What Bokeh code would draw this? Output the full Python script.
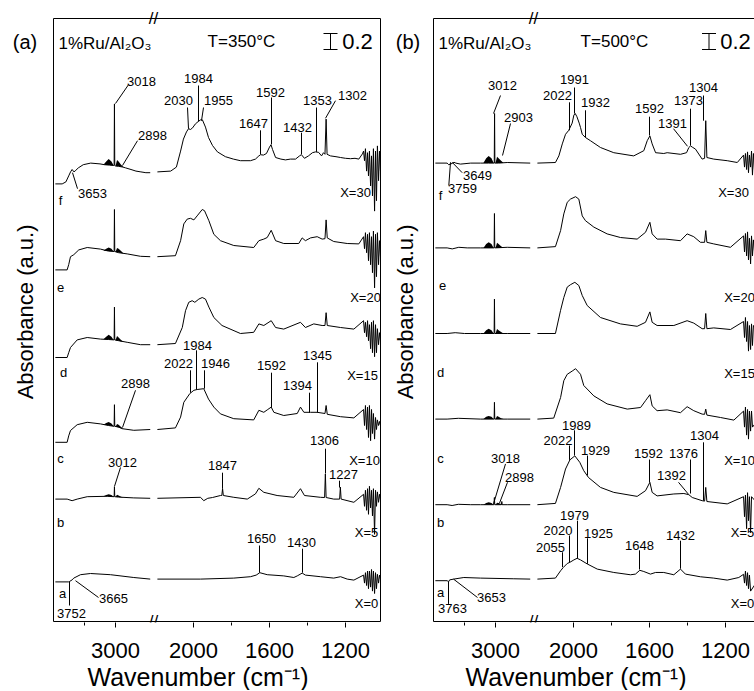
import math
import numpy as np
from bokeh.plotting import figure
from bokeh.models import (Range1d, LinearAxis, FixedTicker, CustomJSTickFormatter,
                          CustomJSTransform, ColumnDataSource, Title)
from bokeh.transform import transform
from bokeh.layouts import row
from bokeh.core.properties import value
from bokeh.embed import file_html
from bokeh.resources import INLINE

nan = float("nan")
FONT = "Liberation Sans"

# ---------------- axis ticks (wavenumber, cm-1) ----------------
TICK_WN = [3000, 2000, 1600, 1200]
MINOR_WN = [3500, 1800, 1400, 1000]
SCALE_BAR = 0.2
Y_TOP = 7.5375   # top of the drawn panel box (absorbance units)

# ---------------- panel (a) spectra: (wavenumber, absorbance rel. to offset) ----------------
A_OFFSETS = {"f": 5.62, "e": 4.56, "d": 3.46, "c": 2.40, "b": 1.54, "a": 0.53}

A_f = [(3970, -0.15), (3860, -0.15), (3800, -0.125), (3755, -0.05), (3725, 0.0), (3700, 0.03),
       (3670, 0.0), (3640, 0.02), (3600, 0.05), (3520, 0.09), (3400, 0.11), (3250, 0.10),
       (3180, 0.09), (3100, 0.085), (3030, 0.08), (3022, 0.08), (3017, 0.85), (3012, 0.08),
       (3005, 0.075), (2950, 0.07), (2880, 0.06), (2836, 0.05), (2750, 0.03), (2670, 0.01),
       (2590, 0.0), (2510, -0.01), (2440, -0.01), (2300, nan),
       (2190, 0.0), (2120, 0.01), (2090, 0.06), (2068, 0.26), (2053, 0.41), (2037, 0.5),
       (2026, 0.54), (2016, 0.53), (2005, 0.55), (1990, 0.6), (1975, 0.63), (1963, 0.65),
       (1953, 0.65), (1937, 0.56), (1921, 0.43), (1900, 0.33), (1874, 0.25), (1832, 0.19),
       (1790, 0.16), (1753, 0.14), (1700, 0.14), (1674, 0.16), (1656, 0.2), (1647, 0.215),
       (1632, 0.21), (1616, 0.23), (1600, 0.31), (1592, 0.34), (1584, 0.28), (1568, 0.18),
       (1540, 0.16), (1516, 0.15), (1490, 0.16), (1463, 0.16), (1442, 0.2), (1432, 0.215),
       (1416, 0.17), (1395, 0.2), (1374, 0.24), (1358, 0.25), (1342, 0.245), (1326, 0.2),
       (1316, 0.24), (1308, 0.22), (1302, 0.66), (1297, 0.22), (1279, 0.2), (1250, 0.19),
       (1226, 0.18), (1200, 0.17), (1174, 0.165), (1150, 0.17), (1130, 0.16), (1111, 0.225),
       (1105, 0.26), (1100, 0.14), (1095, 0.29), (1089, 0.01), (1084, 0.24), (1079, -0.05),
       (1074, 0.26), (1068, -0.175), (1063, 0.2), (1058, -0.3), (1053, 0.29), (1047, -0.49),
       (1042, 0.26), (1037, -0.36), (1032, 0.325), (1026, -0.11), (1021, 0.26), (1016, 0.01)]

A_e = [(3970, -0.165), (3780, -0.165), (3755, -0.1), (3726, 0.0), (3673, 0.025), (3592, 0.085),
       (3456, 0.115), (3242, 0.095), (3113, 0.07), (3022, 0.065), (3017, 0.59), (3012, 0.065),
       (2950, 0.05), (2811, 0.035), (2597, 0.005), (2440, 0.0), (2300, nan),
       (2190, 0.0), (2095, 0.0125), (2068, 0.2), (2051, 0.41), (2033, 0.47), (2016, 0.48),
       (1998, 0.46), (1981, 0.51), (1954, 0.59), (1942, 0.575), (1919, 0.45), (1893, 0.28),
       (1858, 0.2), (1788, 0.14), (1683, 0.115), (1656, 0.2), (1630, 0.22), (1612, 0.24),
       (1591, 0.33), (1568, 0.2), (1525, 0.165), (1446, 0.165), (1428, 0.235), (1411, 0.2),
       (1384, 0.235), (1349, 0.25), (1323, 0.22), (1308, 0.225), (1302, 0.46), (1296, 0.235),
       (1262, 0.19), (1191, 0.165), (1130, 0.16),
       (1105, 0.25), (1100, 0.1), (1095, 0.3), (1089, 0.05), (1084, 0.28), (1079, -0.05),
       (1074, 0.3), (1068, -0.1), (1063, 0.25), (1058, -0.2), (1053, 0.32), (1047, -0.39),
       (1042, 0.28), (1037, -0.25), (1032, 0.3), (1026, -0.1), (1021, 0.2), (1016, 0.0)]

A_d = [(3970, -0.16), (3780, -0.16), (3755, -0.1), (3726, -0.035), (3618, 0.06), (3456, 0.09),
       (3242, 0.07), (3113, 0.065), (3022, 0.06), (3017, 0.47), (3012, 0.06), (2950, 0.05),
       (2811, 0.03), (2597, 0.0), (2440, 0.0), (2300, nan),
       (2190, 0.0), (2095, 0.015), (2059, 0.215), (2042, 0.425), (2025, 0.53), (2007, 0.55),
       (1993, 0.53), (1972, 0.57), (1954, 0.59), (1937, 0.57), (1919, 0.47), (1893, 0.34),
       (1850, 0.24), (1753, 0.14), (1683, 0.155), (1656, 0.26), (1630, 0.24), (1591, 0.3),
       (1568, 0.215), (1525, 0.195), (1437, 0.28), (1411, 0.215), (1367, 0.26), (1323, 0.24),
       (1308, 0.24), (1302, 0.4), (1296, 0.24), (1226, 0.215), (1156, 0.195),
       (1105, 0.3), (1100, 0.15), (1095, 0.28), (1089, 0.1), (1084, 0.3), (1079, 0.05),
       (1074, 0.25), (1068, -0.05), (1063, 0.28), (1058, -0.1), (1053, 0.3), (1047, -0.15),
       (1042, 0.25), (1037, -0.1), (1032, 0.2), (1026, 0.0), (1021, 0.15), (1016, 0.05)]

A_c = [(3970, -0.16), (3780, -0.16), (3755, -0.08), (3726, -0.0125), (3618, 0.06), (3456, 0.09),
       (3242, 0.07), (3113, 0.05), (3022, 0.04), (3017, 0.31), (3012, 0.04), (2950, 0.03),
       (2892, 0.01), (2705, -0.01), (2440, 0.0), (2300, nan),
       (2190, 0.0), (2095, 0.02), (2068, 0.155), (2051, 0.34), (2019, 0.45), (1998, 0.49),
       (1981, 0.5), (1946, 0.51), (1921, 0.38), (1893, 0.28), (1858, 0.195), (1788, 0.135),
       (1683, 0.12), (1656, 0.24), (1630, 0.215), (1612, 0.245), (1591, 0.28), (1577, 0.215),
       (1525, 0.175), (1454, 0.2), (1437, 0.28), (1419, 0.215), (1384, 0.215), (1349, 0.215),
       (1308, 0.2), (1302, 0.3), (1296, 0.19), (1226, 0.16), (1156, 0.145),
       (1105, 0.25), (1100, 0.05), (1095, 0.3), (1089, 0.0), (1084, 0.28), (1079, -0.1),
       (1074, 0.3), (1068, -0.14), (1063, 0.25), (1058, -0.05), (1053, 0.2), (1047, -0.12),
       (1042, 0.15), (1037, 0.0), (1032, 0.12), (1026, 0.05), (1021, 0.1), (1016, 0.05)]

A_b = [(3970, -0.01), (3780, -0.01), (3700, -0.03), (3618, -0.01), (3456, 0.02), (3134, 0.025),
       (3022, 0.02), (3017, 0.145), (3012, 0.02), (2950, 0.015), (2705, 0.005), (2440, 0.0),
       (2300, nan),
       (2190, 0.0), (1963, 0.0125), (1946, -0.03), (1925, 0.0), (1900, 0.01), (1858, 0.035),
       (1851, 0.035), (1847, 0.12), (1843, 0.035), (1788, 0.0125), (1717, -0.01), (1674, 0.055),
       (1656, 0.125), (1630, 0.075), (1560, 0.035), (1472, 0.0125), (1437, 0.12), (1416, 0.035),
       (1332, 0.0125), (1310, 0.01), (1306, 0.305), (1302, 0.01), (1262, -0.01), (1231, -0.01),
       (1227, 0.14), (1223, -0.01), (1156, -0.05),
       (1105, 0.05), (1100, -0.1), (1095, 0.1), (1089, -0.15), (1084, 0.12), (1079, -0.2),
       (1074, 0.15), (1068, -0.12), (1063, 0.1), (1058, -0.22), (1053, 0.12), (1047, -0.45),
       (1042, 0.1), (1037, -0.1), (1032, 0.08), (1026, -0.05), (1021, 0.05), (1016, -0.02)]

A_a = [(3970, -0.035), (3760, -0.035), (3742, -0.03), (3700, -0.01), (3673, 0.0125), (3565, 0.055),
       (3403, 0.07), (3081, 0.055), (2705, 0.02), (2440, 0.0), (2300, nan),
       (2190, 0.0), (1963, 0.0), (1788, 0.0125), (1700, 0.03), (1670, 0.05), (1651, 0.08),
       (1612, 0.055), (1525, 0.04), (1472, 0.02), (1454, 0.04), (1428, 0.075), (1411, 0.05),
       (1332, 0.03), (1262, 0.0125), (1226, 0.03), (1191, 0.0), (1156, -0.0125),
       (1105, 0.05), (1100, -0.05), (1095, 0.08), (1089, -0.08), (1084, 0.1), (1079, -0.12),
       (1074, 0.1), (1068, -0.1), (1063, 0.12), (1058, -0.15), (1053, 0.1), (1047, -0.18),
       (1042, 0.08), (1037, -0.12), (1032, 0.06), (1026, -0.05), (1021, 0.05), (1016, 0.0)]

# CH4 rotational envelopes (filled)
CH4_WN = [3195, 3150, 3110, 3065, 3030, 3017, 3000, 2975, 2950, 2910, 2870]
A_HUMP_BASE = {"f": [0.09, 0.087, 0.085, 0.082, 0.08, 0.08, 0.075, 0.072, 0.07, 0.065, 0.06],
               "e": [0.075, 0.072, 0.07, 0.067, 0.065, 0.065, 0.06, 0.055, 0.052, 0.045, 0.04],
               "d": [0.068, 0.066, 0.065, 0.062, 0.06, 0.06, 0.055, 0.05, 0.048, 0.04, 0.035],
               "c": [0.06, 0.055, 0.05, 0.045, 0.04, 0.04, 0.035, 0.03, 0.025, 0.015, 0.01],
               "b": [0.025, 0.025, 0.025, 0.022, 0.02, 0.02, 0.018, 0.016, 0.015, 0.012, 0.01]}
A_HUMP_TOP = {"f": [0.09, 0.13, 0.16, 0.13, 0.08, 0.08, 0.075, 0.15, 0.13, 0.09, 0.06],
              "e": [0.075, 0.1, 0.115, 0.1, 0.065, 0.065, 0.06, 0.11, 0.1, 0.07, 0.04],
              "d": [0.068, 0.1, 0.125, 0.1, 0.06, 0.06, 0.055, 0.11, 0.09, 0.06, 0.035],
              "c": [0.06, 0.08, 0.095, 0.075, 0.04, 0.04, 0.035, 0.07, 0.06, 0.03, 0.01],
              "b": [0.025, 0.04, 0.05, 0.04, 0.02, 0.02, 0.018, 0.045, 0.035, 0.02, 0.01]}

# ---------------- panel (b) spectra ----------------
B_OFFSETS = {"f": 5.73, "e": 4.67, "d": 3.60, "c": 2.53, "b": 1.46, "a": 0.53}

B_f = [(3970, 0.0), (3780, 0.0), (3755, -0.02), (3726, -0.0125), (3690, 0.0), (3670, 0.01),
       (3640, 0.0), (3565, -0.0125), (3400, 0.0), (3242, 0.0), (3113, 0.0), (3020, 0.0),
       (3015, 0.62), (3010, 0.0), (2950, 0.0), (2811, 0.0075), (2440, 0.0), (2300, nan),
       (2190, 0.0), (2095, 0.0075), (2077, 0.09), (2059, 0.24), (2042, 0.36), (2025, 0.41),
       (2007, 0.5), (1998, 0.6), (1991, 0.62), (1982, 0.58), (1970, 0.5), (1963, 0.445),
       (1954, 0.36), (1937, 0.32), (1911, 0.28), (1858, 0.195), (1788, 0.13), (1683, 0.09),
       (1630, 0.155), (1612, 0.28), (1598, 0.34), (1586, 0.24), (1568, 0.13), (1525, 0.12),
       (1507, 0.13), (1437, 0.11), (1405, 0.13), (1393, 0.195), (1384, 0.215), (1375, 0.2),
       (1358, 0.175), (1323, 0.05), (1310, 0.06), (1304, 0.53), (1298, 0.07), (1262, 0.05),
       (1191, 0.03), (1138, 0.0075),
       (1105, 0.1), (1100, -0.05), (1095, 0.12), (1089, -0.08), (1084, 0.14), (1079, -0.12),
       (1074, 0.1), (1068, -0.05), (1063, 0.15), (1058, -0.15), (1053, 0.12), (1047, -0.1),
       (1042, 0.1), (1037, -0.08), (1032, 0.05), (1026, 0.0)]

B_e = [(3970, 0.0), (3780, 0.0), (3698, -0.0125), (3592, 0.0075), (3456, 0.0), (3242, 0.0),
       (3022, 0.0), (3017, 0.43), (3012, 0.0), (2811, 0.0075), (2440, 0.0), (2300, nan),
       (2190, 0.0), (2095, 0.016), (2068, 0.216), (2051, 0.425), (2033, 0.57), (2016, 0.61),
       (1989, 0.64), (1972, 0.61), (1954, 0.4), (1937, 0.34), (1893, 0.26), (1823, 0.175),
       (1753, 0.13), (1665, 0.11), (1621, 0.195), (1598, 0.32), (1586, 0.175), (1560, 0.11),
       (1516, 0.11), (1437, 0.09), (1402, 0.175), (1367, 0.14), (1332, 0.07), (1310, 0.07),
       (1304, 0.216), (1298, 0.07), (1262, 0.05), (1174, 0.0075),
       (1105, 0.15), (1100, -0.05), (1095, 0.18), (1089, -0.1), (1084, 0.2), (1079, -0.15),
       (1074, 0.12), (1068, -0.2), (1063, 0.15), (1058, -0.1), (1053, 0.1), (1047, -0.05),
       (1042, 0.05), (1026, 0.0)]

B_d = [(3970, 0.0), (3780, 0.0), (3650, 0.01), (3500, 0.0), (3242, 0.0), (3022, 0.0),
       (3017, 0.43), (3012, 0.0), (2811, 0.0), (2440, 0.0), (2300, nan),
       (2190, 0.0), (2095, 0.0), (2068, 0.29), (2051, 0.45), (2033, 0.58), (2016, 0.61),
       (1993, 0.64), (1972, 0.6), (1954, 0.475), (1928, 0.35), (1858, 0.2), (1753, 0.12),
       (1665, 0.09), (1621, 0.14), (1598, 0.27), (1586, 0.14), (1560, 0.1), (1472, 0.1),
       (1402, 0.16), (1367, 0.13), (1323, 0.06), (1310, 0.06), (1304, 0.25), (1298, 0.06),
       (1262, 0.07), (1174, 0.05),
       (1105, 0.15), (1100, -0.05), (1095, 0.2), (1089, -0.1), (1084, 0.15), (1079, -0.22),
       (1074, 0.1), (1068, -0.2), (1063, 0.12), (1058, -0.15), (1053, 0.1), (1026, 0.0)]

B_c = [(3970, 0.0), (3780, 0.0), (3600, 0.01), (3242, 0.0), (3022, 0.0), (3017, 0.21),
       (3012, 0.0), (2811, 0.0), (2440, 0.0), (2300, nan),
       (2190, 0.0), (2104, 0.0125), (2068, 0.27), (2051, 0.48), (2033, 0.56), (2007, 0.6),
       (1989, 0.63), (1963, 0.56), (1946, 0.42), (1893, 0.29), (1823, 0.19), (1717, 0.125),
       (1647, 0.145), (1621, 0.23), (1598, 0.305), (1586, 0.165), (1560, 0.105), (1507, 0.115),
       (1437, 0.08), (1402, 0.155), (1367, 0.105), (1323, 0.0625), (1310, 0.06), (1304, 0.125),
       (1298, 0.05), (1226, 0.02), (1156, -0.0125),
       (1105, 0.1), (1100, -0.1), (1095, 0.15), (1089, -0.2), (1084, 0.12), (1079, -0.25),
       (1074, 0.1), (1068, -0.15), (1063, 0.1), (1058, -0.1), (1026, 0.0)]

B_b = [(3970, 0.0), (3780, 0.0), (3700, -0.01), (3600, 0.005), (3400, 0.0), (3242, 0.0),
       (3025, 0.0), (3018, 0.09), (3012, 0.0), (2905, 0.0), (2898, 0.04), (2892, 0.0),
       (2811, 0.0), (2440, 0.0), (2300, nan),
       (2190, 0.0), (2095, 0.016), (2068, 0.216), (2042, 0.446), (2019, 0.56), (1993, 0.61),
       (1967, 0.53), (1946, 0.425), (1921, 0.34), (1858, 0.216), (1788, 0.154), (1665, 0.104),
       (1621, 0.175), (1598, 0.28), (1586, 0.154), (1560, 0.11), (1472, 0.134), (1419, 0.14),
       (1393, 0.125), (1375, 0.09), (1323, 0.05), (1310, 0.045), (1304, 0.216), (1298, 0.04),
       (1191, 0.01),
       (1105, 0.1), (1100, -0.15), (1095, 0.12), (1089, -0.3), (1084, 0.15), (1079, -0.2),
       (1074, 0.1), (1068, -0.35), (1063, 0.1), (1026, 0.0)]

B_a = [(3970, -0.02), (3779, -0.02), (3758, -0.035), (3740, -0.01), (3673, 0.0), (3511, 0.02),
       (3242, 0.0125), (2705, 0.004), (2440, 0.0), (2300, nan),
       (2190, 0.0), (2095, 0.0125), (2068, 0.104), (2054, 0.145), (2033, 0.195), (2019, 0.21),
       (1998, 0.24), (1981, 0.26), (1963, 0.24), (1928, 0.19), (1875, 0.125), (1788, 0.083),
       (1700, 0.054), (1674, 0.0625), (1651, 0.11), (1630, 0.095), (1595, 0.0625), (1568, 0.083),
       (1525, 0.083), (1472, 0.054), (1437, 0.125), (1411, 0.0625), (1332, 0.029), (1262, 0.0125),
       (1191, -0.0125), (1130, 0.02),
       (1105, 0.06), (1100, -0.05), (1095, 0.1), (1089, -0.08), (1084, 0.08), (1079, -0.12),
       (1074, 0.05), (1068, -0.15), (1026, 0.0)]

B_HUMP_BASE = {"f": [0, 0, 0, 0, 0, 0, 0, 0, 0, 0, 0],
               "e": [0, 0, 0, 0, 0, 0, 0, 0, 0, 0, 0],
               "d": [0, 0, 0, 0, 0, 0, 0, 0, 0, 0, 0],
               "c": [0, 0, 0, 0, 0, 0, 0, 0, 0, 0, 0],
               "b": [0, 0, 0, 0, 0, 0, 0, 0, 0, 0, 0]}
B_HUMP_TOP = {"f": [0, 0.06, 0.09, 0.06, 0, 0, 0, 0.08, 0.06, 0.03, 0],
              "e": [0, 0.05, 0.07, 0.05, 0, 0, 0, 0.065, 0.05, 0.02, 0],
              "d": [0, 0.04, 0.06, 0.04, 0, 0, 0, 0.055, 0.04, 0.02, 0],
              "c": [0, 0.03, 0.04, 0.03, 0, 0, 0, 0.04, 0.03, 0.01, 0],
              "b": [0, 0.02, 0.03, 0.02, 0, 0, 0, 0.025, 0.02, 0.01, 0]}

# ---------------- annotations (plot x position, absorbance) ----------------
A_PEAK_TEXT = [("3018", 88, 6.75), ("2898", 99, 6.075), ("3653", 39, 5.35), ("2030", 125, 6.51),
               ("1984", 145, 6.79), ("1955", 165, 6.51), ("1592", 217, 6.61), ("1647", 200, 6.225),
               ("1432", 244, 6.175), ("1353", 264, 6.51), ("1302", 299, 6.575),
               ("2022", 125, 3.225), ("1984", 144, 3.45), ("1946", 162, 3.225), ("2898", 82, 2.975),
               ("1592", 218, 3.2), ("1394", 244, 2.95), ("1345", 264, 3.325),
               ("3012", 69, 1.99), ("1847", 169, 1.95), ("1306", 271, 2.26), ("1227", 290, 1.84),
               ("1650", 208, 1.04), ("1430", 248, 0.99), ("3752", 18, 0.1), ("3665", 60, 0.29),
               ("f", 7, 5.26), ("e", 7, 4.175), ("d", 10, 3.11), ("c", 7, 2.04), ("b", 7, 1.24),
               ("a", 9, 0.35),
               ("X=30", 302, 5.36), ("X=20", 312, 4.05), ("X=15", 309, 3.075), ("X=10", 311, 2.01),
               ("X=5", 313, 1.11), ("X=0", 313, 0.225)]
A_LEADERS = [(75, 6.71, 62, 6.475), (84, 6.01, 69, 5.7), (24, 5.41, 19, 5.61), (134, 6.425, 135, 6.16),
             (145, 6.7, 145, 6.25), (150, 6.425, 148, 6.26), (218, 6.55, 218, 5.965),
             (207, 6.14, 207, 5.84), (248, 6.11, 248, 5.84), (263, 6.425, 263, 5.87),
             (282, 6.51, 272, 6.29),
             (137, 3.14, 137, 2.86), (143, 3.39, 143, 2.9), (151, 3.14, 151, 2.91), (82, 2.89, 69, 2.425),
             (218, 3.11, 218, 2.675), (256, 2.86, 256, 2.61), (264, 3.24, 264, 2.61),
             (67, 1.925, 61, 1.69), (169, 1.86, 169, 1.66), (272, 2.16, 272, 1.85), (286, 1.76, 286, 1.675),
             (206, 0.95, 206, 0.61), (249, 0.91, 249, 0.61), (16, 0.5, 16, 0.2), (45, 0.3, 22, 0.51)]

B_PEAK_TEXT = [("3012", 69, 6.7), ("2903", 85, 6.3), ("3649", 44, 5.575), ("3759", 29, 5.41),
               ("1991", 141, 6.775), ("2022", 124, 6.575), ("1932", 162, 6.49), ("1592", 216, 6.41),
               ("1391", 239, 6.225), ("1373", 255, 6.51), ("1304", 270, 6.675),
               ("1989", 143, 2.45), ("2022", 124.5, 2.26), ("1929", 162, 2.14), ("3018", 72, 2.04),
               ("2898", 86, 1.8), ("1592", 215, 2.1), ("1376", 250, 2.1), ("1392", 238, 1.825),
               ("1304", 271, 2.325),
               ("1979", 141, 1.325), ("2020", 124.5, 1.14), ("2055", 117, 0.925), ("1925", 165, 1.1),
               ("1648", 206, 0.95), ("1432", 247, 1.075), ("3763", 19, 0.16), ("3653", 58, 0.3),
               ("f", 7, 5.325), ("e", 9, 4.2), ("d", 7, 3.11), ("c", 7, 2.04), ("b", 7, 1.24),
               ("a", 7, 0.36),
               ("X=30", 300, 5.36), ("X=20", 306, 4.05), ("X=15", 306, 3.1), ("X=10", 306, 2.01),
               ("X=5", 309, 1.11), ("X=0", 309, 0.225)]
B_LEADERS = [(67, 6.575, 60, 6.35), (77, 6.225, 69, 5.825), (141, 6.675, 141, 6.35), (136, 6.49, 136, 6.14),
             (152, 6.39, 152, 6.05), (216, 6.31, 216, 6.075), (257, 6.41, 257, 5.95), (240, 6.16, 254, 5.94),
             (270, 6.575, 270, 6.26), (28.7, 5.61, 18.7, 5.74), (15.3, 5.45, 17, 5.74),
             (141, 2.39, 141, 2.075), (136, 2.2, 136, 2.02), (154, 2.075, 154, 1.825), (72, 1.97, 60, 1.47),
             (74, 1.74, 66, 1.48), (216, 2.025, 216, 1.74), (257, 2.025, 257, 1.6), (245, 1.74, 255, 1.59),
             (270, 2.24, 270, 1.51),
             (144, 1.26, 144, 0.79), (136, 1.075, 136, 0.74), (129, 0.865, 129, 0.68), (154, 1.04, 154, 0.72),
             (206, 0.89, 206, 0.65), (247, 1.01, 247, 0.66), (15, 0.5, 15, 0.22), (44, 0.3, 20, 0.53)]

# broken-axis mapping: wavenumber -> plot position
BRK = dict(split=2300.0, a0=4000.0, s0=0.062, a1=2000.0, s1=0.19, o1=140.0)
brk = CustomJSTransform(args=BRK, v_func="""
const out = new Float64Array(xs.length);
for (let i = 0; i < xs.length; i++) {
  const w = xs[i];
  out[i] = (w >= split) ? (a0 - w) * s0 : o1 + (a1 - w) * s1;
}
return out;
""")


def to_u(w):
    if w >= BRK["split"]:
        return round((BRK["a0"] - w) * BRK["s0"], 6)
    return round(BRK["o1"] + (BRK["a1"] - w) * BRK["s1"], 6)


def txt(p, xs, ys, texts, size, align="center", angle=0.0):
    p.text(x=xs, y=ys, text=texts, text_font=value(FONT), text_font_size=size,
           text_align=align, text_baseline="middle", text_color="black", angle=angle)


def build(tag, tag_u, left_px, right_u, box_right, right_frame, spectra, offsets, hump_base,
          hump_top, peak_text, leaders, temp_text, ibeam_u, bar_text_u, xlab_offset):
    p = figure(frame_width=int(left_px + right_u), frame_height=622,
               x_range=Range1d(-left_px, right_u), y_range=Range1d(-0.0125, 7.7625),
               x_axis_location=None, y_axis_location=None,
               toolbar_location=None, output_backend="svg",
               min_border_left=0, min_border_right=0, min_border_top=0, min_border_bottom=0,
               background_fill_color="white", border_fill_color="white")
    p.outline_line_color = None
    p.xgrid.visible = False
    p.ygrid.visible = False

    xb = LinearAxis(ticker=FixedTicker(ticks=[to_u(w) for w in TICK_WN],
                                       minor_ticks=[to_u(w) for w in MINOR_WN]),
                    formatter=CustomJSTickFormatter(args=BRK, code="""
const w = tick < 100 ? a0 - tick / s0 : a1 - (tick - o1) / s1;
return String(Math.round(w));
"""),
                    major_tick_out=5, major_tick_in=0, minor_tick_out=3, minor_tick_in=0,
                    major_label_standoff=15, major_label_text_font=FONT,
                    major_label_text_font_size="22px", major_label_text_color="black",
                    axis_line_color=None, major_tick_line_color="black",
                    minor_tick_line_color="black")
    p.add_layout(xb, "below")
    p.add_layout(Title(text="Wavenumber (cm\u207b\u00b9)", align="left", offset=xlab_offset,
                       text_font=FONT, text_font_size="25px", text_font_style="normal",
                       text_color="black", standoff=0), "below")

    # panel box (left, top, bottom and optionally right edge)
    bx0 = [0, 0, 0]
    by0 = [0, Y_TOP, 0]
    bx1 = [0, box_right, box_right]
    by1 = [Y_TOP, Y_TOP, 0]
    if right_frame:
        bx0.append(box_right); by0.append(0); bx1.append(box_right); by1.append(Y_TOP)
    p.segment(x0=bx0, y0=by0, x1=bx1, y1=by1, line_color="black", line_width=1)
    txt(p, [100, 100], [Y_TOP, 0.0], ["//", "//"], "17px")

    for key, pairs in spectra.items():
        wn = np.array([w for w, _ in pairs], dtype=float)
        y = offsets[key] + np.array([r for _, r in pairs], dtype=float)
        p.line(x=transform("wn", brk), y="y", source=ColumnDataSource(dict(wn=wn, y=y)),
               line_color="black", line_width=1)
        if key in hump_top:
            src = ColumnDataSource(dict(wn=CH4_WN,
                                        y1=[offsets[key] + v for v in hump_base[key]],
                                        y2=[offsets[key] + v for v in hump_top[key]]))
            p.varea(x=transform("wn", brk), y1="y1", y2="y2", source=src, fill_color="black")

    txt(p, [u for _, u, _ in peak_text], [y for _, _, y in peak_text],
        [t for t, _, _ in peak_text], "13px")
    lsrc = ColumnDataSource(dict(u0=[l[0] for l in leaders], y0=[l[1] for l in leaders],
                                 u1=[l[2] for l in leaders], y1=[l[3] for l in leaders]))
    p.segment(x0="u0", y0="y0", x1="u1", y1="y1", source=lsrc, line_color="black", line_width=1)

    # header texts
    txt(p, [5], [7.23], ["1%Ru/Al\u2082O\u2083"], "17px", align="left")
    txt(p, [temp_text[1]], [7.25], [temp_text[0]], "17px")
    top = 7.35
    p.segment(x0=[ibeam_u, ibeam_u - 7, ibeam_u - 7], y0=[top - SCALE_BAR, top, top - SCALE_BAR],
              x1=[ibeam_u, ibeam_u + 7, ibeam_u + 7], y1=[top, top, top - SCALE_BAR],
              line_color="black", line_width=1)
    txt(p, [bar_text_u], [7.25], [str(SCALE_BAR)], "22px")

    # panel tag and y-axis title (left of the panel box)
    txt(p, [tag_u], [7.25], [tag], "20px")
    txt(p, [-28], [3.87], ["Absorbance (a.u.)"], "22px", angle=math.pi / 2)
    return p


pa = build("(a)", -28.5, 53, 330, 327, True,
           {"f": A_f, "e": A_e, "d": A_d, "c": A_c, "b": A_b, "a": A_a},
           A_OFFSETS, A_HUMP_BASE, A_HUMP_TOP, A_PEAK_TEXT, A_LEADERS,
           ("T=350\u00b0C", 188), 277, 304, 87)
pb = build("(b)", -25.5, 50, 321, 321, False,
           {"f": B_f, "e": B_e, "d": B_d, "c": B_c, "b": B_b, "a": B_a},
           B_OFFSETS, B_HUMP_BASE, B_HUMP_TOP, B_PEAK_TEXT, B_LEADERS,
           ("T=500\u00b0C", 181), 275.5, 302, 82)

layout = row(pa, pb, spacing=0)
open("out.html", "w").write(file_html(layout, INLINE))
